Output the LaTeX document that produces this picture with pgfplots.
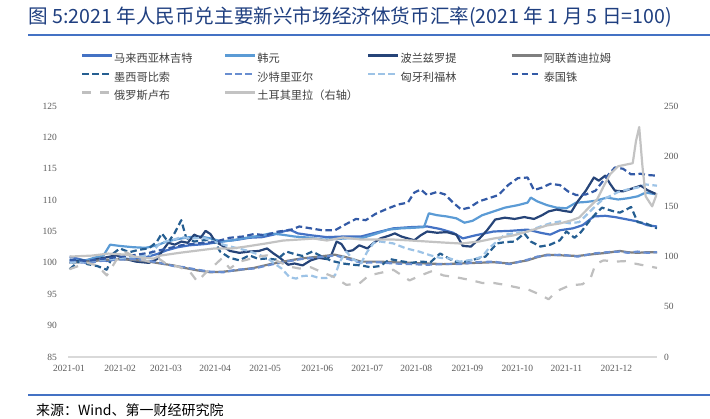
\documentclass[border=0pt]{standalone}
\usepackage{pgfplots}
\pgfplotsset{compat=1.18}
\usepackage{fontspec}
\setmainfont{Liberation Serif}
\newfontfamily\cjk{Noto Sans CJK SC}

\definecolor{cMYR}{HTML}{4472C4}
\definecolor{cKRW}{HTML}{5B9BD5}
\definecolor{cPLN}{HTML}{264478}
\definecolor{cAED}{HTML}{7F7F7F}
\definecolor{cMXN}{HTML}{255E91}
\definecolor{cSAR}{HTML}{698ED0}
\definecolor{cHUF}{HTML}{9DC3E6}
\definecolor{cTHB}{HTML}{335AA6}
\definecolor{cRUB}{HTML}{BFBFBF}
\definecolor{cTRY}{HTML}{C3C3C3}
\definecolor{titleblue}{HTML}{1F3F80}
\definecolor{rule}{HTML}{4472C4}
\definecolor{ticktext}{HTML}{595959}
\definecolor{legtext}{HTML}{404040}
\definecolor{axgray}{HTML}{D9D9D9}

\pgfplotsset{
  ser/.style={no markers, line width=2.2pt, line join=round},
  dsh/.style={dash pattern=on 6.5pt off 3.5pt},
  ldsh/.style={dash pattern=on 9pt off 9pt},
}

\begin{document}
\begin{tikzpicture}
\path[use as bounding box] (0pt,0pt) rectangle (710pt,419pt);

\begin{axis}[
  at={(68pt,62pt)}, anchor=south west, scale only axis,
  width=589pt, height=251pt,
  xmin=0, xmax=364, ymin=85, ymax=125,
  axis x line*=bottom, axis y line*=left,
  x axis line style={-, draw=axgray, line width=1.5pt},
  y axis line style={draw=none},
  major tick length=0pt,
  /pgf/number format/assume math mode=true,
  tick label style={font=\fontsize{9.5}{11}\selectfont, text=ticktext, inner sep=0pt},
  ytick={85,90,...,125},
  yticklabel style={anchor=east, xshift=-11pt},
  xtick={0.6,32.2,60.6,90.9,121.8,154,184.9,215.2,246.8,277.7,308,338.9},
  xticklabels={2021-01,2021-02,2021-03,2021-04,2021-05,2021-06,2021-07,2021-08,2021-09,2021-10,2021-11,2021-12},
  xticklabel style={anchor=north, yshift=-7.5pt},
  legend columns=4,
  legend style={draw=none, fill=none, inner sep=0pt, outer sep=0pt,
    at={(0.02207,1.211)}, anchor=north west,
    font=\cjk\fontsize{11.2}{13}\selectfont, text=legtext,
    column sep=0pt, row sep=5.5pt,
    nodes={inner sep=1pt, text height=8.5pt, text depth=2.5pt},
    cells={anchor=west}},
  legend image code/.code={\path (0pt,0pt); \draw[#1] (0pt,4pt) -- (30pt,4pt);},
]
% 马来西亚林吉特
\addplot[ser, cMYR] coordinates {(1,101.0) (10,100.4) (16,100.6) (24,100.3) (32,100.7) (40,100.6) (48,100.9) (55,101.4) (61,102.0) (68,102.5) (75,102.8) (85,103.0) (95,103.4) (105,103.7) (112,104.0) (120,104.1) (127,104.5) (133,105.0) (137,105.3) (142,104.7) (150,104.4) (160,104.1) (170,104.2) (181,104.2) (190,104.8) (201,105.5) (212,105.7) (222,105.8) (230,105.4) (238,104.8) (244,103.9) (252,104.4) (263,105.0) (273,105.1) (284,105.3) (292,104.8) (298,104.5) (304,105.2) (312,105.5) (318,106.0) (325,107.4) (332,107.5) (338,107.3) (346,106.9) (352,106.6) (358,106.0) (364,105.8)};
\addlegendentry{\makebox[109pt][l]{马来西亚林吉特}}
% 韩元
\addplot[ser, cKRW] coordinates {(1,100.5) (10,100.3) (16,100.8) (22,101.2) (26,102.9) (32,102.7) (40,102.5) (48,102.4) (55,102.8) (61,103.4) (68,103.8) (75,104.1) (82,104.2) (88,103.9) (95,103.4) (102,103.6) (110,104.0) (118,104.3) (125,104.7) (132,104.5) (140,104.2) (150,104.0) (158,103.7) (165,103.8) (172,103.9) (181,103.9) (190,104.6) (198,105.3) (206,105.5) (214,105.6) (220,105.7) (223,107.9) (228,107.6) (234,107.4) (240,107.1) (245,106.4) (250,106.7) (256,107.6) (263,108.2) (270,108.8) (278,109.2) (284,109.6) (286,110.4) (290,109.8) (296,109.2) (302,108.8) (308,108.7) (314,109.6) (320,109.7) (326,109.9) (333,110.4) (340,110.1) (346,110.3) (352,110.6) (357,111.2) (364,110.9)};
\addlegendentry{\makebox[109pt][l]{韩元}}
% 波兰兹罗提
\addplot[ser, cPLN] coordinates {(1,100.0) (8,100.4) (12,100.2) (18,100.6) (24,100.9) (30,101.2) (36,100.6) (42,100.2) (50,100.0) (55,100.6) (58,101.8) (62,103.2) (66,102.9) (70,103.4) (74,103.2) (78,104.5) (82,104.0) (85,105.1) (88,104.6) (91,103.4) (95,102.8) (100,101.9) (106,101.6) (112,101.8) (118,101.9) (123,102.3) (127,101.5) (131,100.8) (136,99.7) (140,99.9) (145,99.6) (150,100.4) (155,100.8) (160,100.6) (163,101.4) (166,103.4) (169,103.0) (172,101.8) (176,102.0) (180,102.8) (185,102.3) (189,103.2) (193,103.9) (198,104.3) (202,104.7) (206,104.2) (210,103.9) (214,103.6) (218,104.4) (222,105.0) (228,104.8) (234,104.9) (240,104.5) (244,102.7) (249,102.6) (254,103.8) (259,105.2) (264,106.9) (270,107.2) (276,107.0) (282,107.3) (288,107.0) (293,107.6) (297,108.2) (302,108.5) (306,108.3) (311,108.1) (315,109.8) (320,111.5) (325,113.6) (328,113.1) (332,113.9) (335,112.6) (338,111.5) (343,111.4) (348,111.8) (354,112.3) (358,111.6) (364,110.9)};
\addlegendentry{\makebox[109pt][l]{波兰兹罗提}}
% 阿联酋迪拉姆
\addplot[ser, cAED] coordinates {(1,100.0) (12,100.2) (20,100.4) (30,100.6) (40,100.5) (50,100.2) (57,99.9) (65,99.6) (72,99.2) (80,98.8) (88,98.5) (96,98.6) (104,98.8) (115,99.2) (125,99.8) (135,100.3) (144,100.7) (155,101.0) (165,101.3) (172,100.9) (181,100.2) (192,100.2) (201,100.1) (212,100.0) (222,99.9) (232,99.8) (242,99.9) (252,100.0) (263,100.1) (273,99.9) (284,100.4) (290,100.9) (296,101.3) (305,101.2) (315,101.1) (325,101.4) (333,101.6) (341,101.9) (346,101.7) (352,101.6) (358,101.7) (364,101.7)};
\addlegendentry{\makebox[109pt][l]{阿联酋迪拉姆}}
% 墨西哥比索
\addplot[ser, dsh, cMXN] coordinates {(1,99.0) (8,100.5) (12,99.8) (18,99.5) (24,98.9) (28,101.5) (32,102.3) (38,101.7) (44,102.1) (50,102.3) (55,103.4) (58,104.7) (62,103.3) (66,104.8) (70,106.8) (73,104.0) (78,103.4) (84,103.6) (90,103.7) (94,101.8) (100,100.8) (106,100.4) (112,101.2) (118,100.6) (123,100.7) (129,100.5) (135,101.8) (140,101.4) (145,101.1) (151,101.8) (157,101.0) (163,100.3) (170,99.9) (176,99.7) (181,99.6) (187,99.3) (193,99.5) (199,100.6) (205,100.3) (212,100.0) (218,100.2) (224,100.1) (230,101.5) (236,100.6) (242,99.9) (247,100.3) (252,100.6) (258,101.0) (265,103.1) (270,103.3) (276,103.4) (282,104.7) (286,103.4) (292,102.6) (298,102.9) (304,103.6) (308,105.0) (313,104.0) (317,104.9) (322,106.6) (326,107.8) (330,108.8) (336,108.3) (341,108.0) (345,108.5) (348,108.9) (352,106.5) (357,106.3) (364,105.5)};
\addlegendentry{\makebox[109pt][l]{墨西哥比索}}
% 沙特里亚尔
\addplot[ser, dsh, cSAR] coordinates {(1,100.2) (12,100.0) (20,100.3) (30,100.5) (40,100.6) (50,100.3) (57,100.0) (65,99.5) (72,99.3) (80,98.9) (88,98.6) (96,98.5) (104,98.9) (115,99.1) (125,99.7) (135,100.2) (144,100.6) (155,100.9) (165,101.2) (172,100.7) (181,100.0) (192,100.1) (201,99.9) (212,99.8) (222,99.7) (232,99.8) (242,99.8) (252,100.1) (263,100.2) (273,99.8) (284,100.5) (290,101.0) (296,101.2) (305,101.3) (315,101.0) (325,101.5) (333,101.7) (341,101.8) (346,101.6) (352,101.8) (358,101.6) (364,101.7)};
\addlegendentry{\makebox[109pt][l]{沙特里亚尔}}
% 匈牙利福林
\addplot[ser, dsh, cHUF] coordinates {(1,100.0) (12,100.3) (20,100.5) (30,100.7) (40,101.0) (50,101.1) (57,103.2) (64,103.6) (70,104.1) (77,103.9) (84,104.0) (90,103.4) (96,102.9) (102,102.5) (110,102.0) (117,101.4) (123,100.8) (128,99.8) (132,99.1) (137,97.7) (141,97.5) (145,97.9) (150,98.0) (155,97.6) (160,97.6) (165,98.0) (168,100.2) (172,101.8) (176,100.6) (181,99.9) (185,101.8) (189,103.2) (193,103.4) (201,103.1) (209,102.3) (217,101.8) (224,101.2) (230,100.8) (236,100.7) (242,100.2) (250,100.5) (256,101.0) (260,102.3) (265,103.4) (270,104.5) (278,104.8) (284,105.0) (292,105.8) (298,106.3) (304,106.6) (310,106.3) (316,106.5) (325,108.8) (330,110.0) (333,110.4) (340,111.3) (346,111.7) (352,112.0) (357,112.5) (364,112.3)};
\addlegendentry{\makebox[109pt][l]{匈牙利福林}}
% 泰国铢
\addplot[ser, dsh, cTHB] coordinates {(1,100.5) (12,100.3) (20,100.6) (30,100.9) (40,101.2) (50,101.6) (60,102.2) (70,102.8) (80,103.1) (90,103.3) (100,104.0) (108,104.2) (115,104.6) (122,104.4) (130,105.0) (137,105.2) (143,105.8) (150,105.5) (157,105.2) (165,105.2) (172,106.2) (178,107.0) (184,106.8) (190,107.8) (197,108.6) (204,109.3) (210,109.6) (214,111.2) (218,111.7) (222,110.8) (228,111.3) (233,110.9) (238,109.6) (243,108.5) (248,108.8) (254,109.8) (260,110.3) (266,110.8) (272,112.4) (278,113.5) (284,113.6) (288,111.6) (293,112.0) (298,112.6) (304,112.4) (309,111.4) (314,110.8) (320,110.9) (326,111.5) (332,113.5) (338,115.2) (343,115.0) (348,114.1) (354,114.2) (358,114.0) (364,113.9)};
\addlegendentry{\makebox[109pt][l]{泰国铢}}
% 俄罗斯卢布
\addplot[ser, ldsh, cRUB] coordinates {(1,99.0) (12,100.0) (18,99.6) (24,98.0) (30,100.5) (36,101.7) (42,100.8) (50,100.2) (56,100.7) (61,99.8) (68,99.4) (75,98.7) (80,97.0) (85,98.4) (90,99.5) (95,100.7) (100,99.1) (106,100.2) (112,100.6) (118,101.0) (123,101.2) (130,100.2) (137,99.4) (143,99.1) (150,99.3) (158,98.4) (164,97.8) (172,96.5) (180,96.7) (186,98.0) (193,98.4) (201,98.9) (207,97.9) (211,97.2) (218,98.0) (225,98.7) (232,98.0) (240,97.7) (248,97.3) (256,96.8) (263,96.8) (270,96.5) (279,96.0) (284,95.8) (292,94.9) (297,94.2) (302,95.5) (310,96.4) (318,96.6) (323,97.6) (326,99.8) (331,100.4) (338,100.2) (346,100.3) (350,99.9) (356,99.6) (364,99.2)};
\addlegendentry{\makebox[109pt][l]{俄罗斯卢布}}
\addlegendimage{ser, cTRY}
\addlegendentry{\makebox[109pt][l]{土耳其里拉（右轴）}}
\end{axis}

% 土耳其里拉 on the right axis
\begin{axis}[
  at={(68pt,62pt)}, anchor=south west, scale only axis,
  width=589pt, height=251pt,
  xmin=0, xmax=364, ymin=0, ymax=250,
  axis x line=none, axis y line*=right,
  y axis line style={draw=none},
  major tick length=0pt,
  /pgf/number format/assume math mode=true,
  tick label style={font=\fontsize{9.5}{11}\selectfont, text=ticktext, inner sep=0pt},
  ytick={0,50,...,250},
  yticklabel style={anchor=west, xshift=7pt},
]
\addplot[ser, cTRY] coordinates {(1,100) (15,101) (25,103) (35,102) (45,99) (53,98) (57,101) (70,104) (80,106) (90,108) (101,108) (110,110) (122,113) (133,116) (143,117) (152,118) (160,116) (170,119) (181,117) (201,117) (212,116) (222,115) (232,114) (243,113) (254,115) (263,118) (275,121) (284,125) (292,129) (296,131) (304,133) (311,136) (316,139) (322,149) (327,157) (331,170) (335,182) (340,190) (346,192) (349,193) (351,215) (353,229) (355,190) (357,160) (361,150) (364,163)};
\end{axis}

\node[anchor=west, inner sep=0pt, text=titleblue, font=\cjk\fontsize{19.6}{22}\selectfont] at (28pt,402pt) {图 5:2021 年人民币兑主要新兴市场经济体货币汇率(2021 年 1 月 5 日=100)};
\draw[rule, line width=2pt] (28pt,384pt) -- (710pt,384pt);
\draw[rule, line width=2pt] (28pt,24pt) -- (710pt,24pt);
\node[anchor=west, inner sep=0pt, font=\cjk\fontsize{14}{16}\selectfont] at (36pt,9pt) {来源：Wind、第一财经研究院};
\end{tikzpicture}
\end{document}
